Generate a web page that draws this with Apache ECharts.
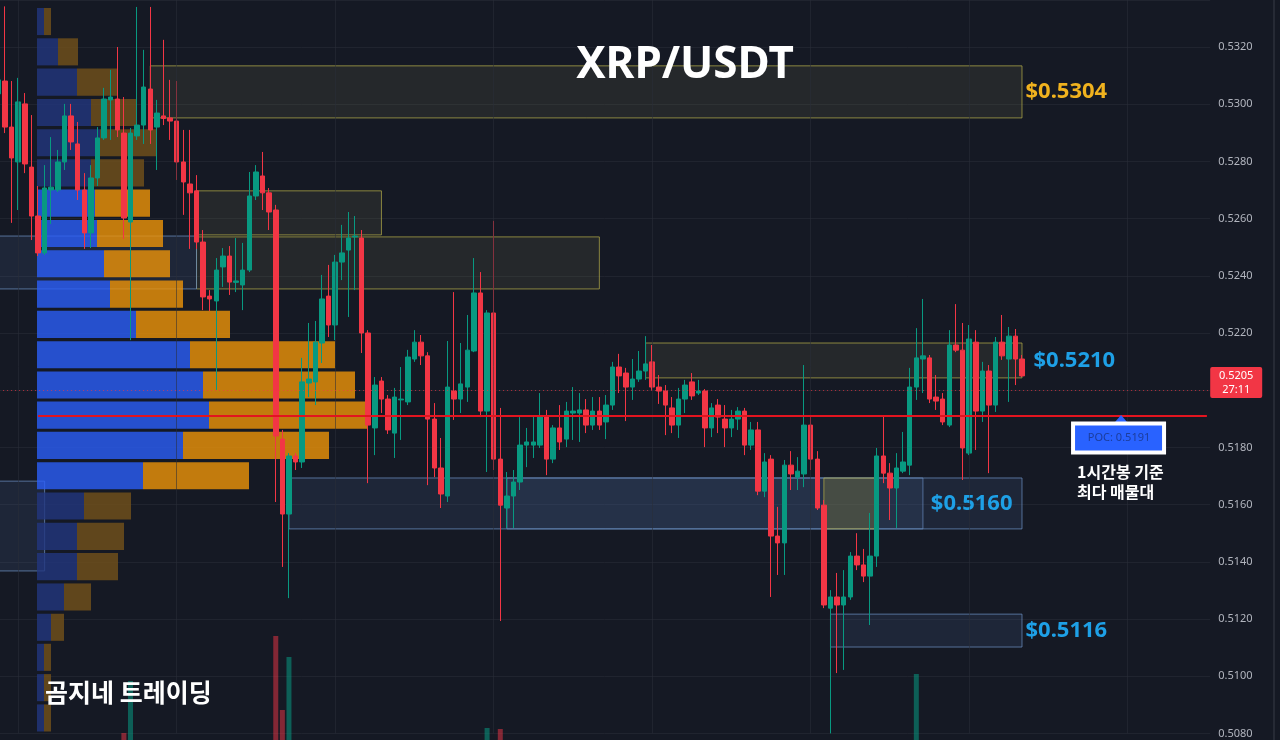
<!DOCTYPE html>
<html lang="ko">
<head>
<meta charset="utf-8">
<title>XRP/USDT 1H</title>
<script src="https://cdn.jsdelivr.net/npm/echarts/dist/echarts.min.js"></script>
<style>
  html, body { margin: 0; padding: 0; background: #151924; }
  #chart { width: 1280px; height: 740px; }
</style>
</head>
<body>
<div id="chart"></div>
<script>
// ---- 1h candles, XRP/USDT ----
const candleOpen = [
  0.53036,
  0.53081,0.52920,0.52798,0.53001,0.52780,0.52609,0.52480,0.52700,0.52700,0.52798,
  0.52959,0.52861,0.52700,0.52550,0.52742,0.52882,0.53015,0.53018,0.52899,0.52588,
  0.52889,0.52927,0.53053,0.52920,0.52959,0.52952,0.52941,0.52798,0.52721,0.52697,
  0.52518,0.52329,0.52312,0.52431,0.52469,0.52377,0.52368,0.52420,0.52679,0.52749,
  0.52690,0.52630,0.51829,0.51567,0.51770,0.51749,0.52025,0.52029,0.52165,0.52329,
  0.52228,0.52448,0.52490,0.52536,0.52532,0.52200,0.51868,0.52032,0.51969,0.51850,
  0.51966,0.51959,0.52109,0.52168,0.52120,0.51899,0.51728,0.51630,0.51997,0.51969,
  0.52011,0.52137,0.52340,0.51927,0.52270,0.51759,0.51588,0.51630,0.51679,0.51808,
  0.51808,0.51808,0.51910,0.51759,0.51868,0.51829,0.51920,0.51920,0.51931,0.51878,
  0.51927,0.51889,0.51948,0.52081,0.52060,0.52011,0.52039,0.52067,0.52099,0.52011,
  0.51997,0.51938,0.51878,0.51969,0.52029,0.51990,0.51997,0.51868,0.51948,0.51899,
  0.51868,0.51899,0.51927,0.51808,0.51861,0.51647,0.51759,0.51490,0.51466,0.51738,
  0.51696,0.51707,0.51878,0.51759,0.51598,0.51238,0.51277,0.51249,0.51277,0.51420,
  0.51389,0.51350,0.51420,0.51770,0.51710,0.51658,0.51717,0.51738,0.52011,0.52109,
  0.52113,0.51976,0.51969,0.51878,0.52158,0.52140,0.51780,0.52168,0.51927,0.52067,
  0.51948,0.52168,0.52109,0.52189,0.52109
];
const candleHigh = [
  0.53102,
  0.53342,0.53081,0.53092,0.53039,0.52962,0.52714,0.52787,0.52885,0.52840,0.53001,
  0.53001,0.52938,0.52759,0.52787,0.52920,0.53057,0.53120,0.53200,0.53025,0.52917,
  0.53340,0.53190,0.53340,0.53015,0.53225,0.53085,0.53081,0.52910,0.52910,0.52752,
  0.52560,0.52350,0.52462,0.52497,0.52504,0.52532,0.52515,0.52763,0.52787,0.52833,
  0.52707,0.52648,0.51861,0.51780,0.51780,0.52113,0.52235,0.52242,0.52403,0.52438,
  0.52473,0.52578,0.52623,0.52609,0.52560,0.52210,0.52046,0.52046,0.51983,0.52008,
  0.52081,0.52141,0.52210,0.52193,0.52133,0.51955,0.51833,0.52172,0.52343,0.52165,
  0.52263,0.52462,0.52413,0.52280,0.52592,0.51938,0.51714,0.51721,0.51906,0.51868,
  0.51913,0.51990,0.51931,0.51878,0.51948,0.51959,0.52011,0.51990,0.51969,0.51976,
  0.51976,0.51983,0.52099,0.52127,0.52078,0.52109,0.52137,0.52189,0.52158,0.52053,
  0.52018,0.51976,0.52008,0.52036,0.52060,0.52036,0.52004,0.51955,0.51969,0.51948,
  0.51931,0.51941,0.51938,0.51889,0.51889,0.51780,0.51773,0.51592,0.51756,0.51787,
  0.51766,0.52088,0.51906,0.51787,0.51616,0.51301,0.51361,0.51371,0.51434,0.51500,
  0.51445,0.51571,0.51798,0.51913,0.51745,0.51780,0.51854,0.52078,0.52217,0.52319,
  0.52123,0.52053,0.51990,0.52210,0.52301,0.52235,0.52228,0.52210,0.52099,0.52088,
  0.52186,0.52263,0.52221,0.52214,0.52123
];
const candleLow = [
  0.53015,
  0.52899,0.52585,0.52630,0.52759,0.52525,0.52469,0.52473,0.52581,0.52693,0.52770,
  0.52840,0.52665,0.52494,0.52497,0.52714,0.52875,0.52875,0.52885,0.52529,0.52175,
  0.52875,0.52861,0.52861,0.52770,0.52927,0.52875,0.52735,0.52613,0.52494,0.52494,
  0.52280,0.52277,0.52001,0.52361,0.52333,0.52343,0.52280,0.52413,0.52665,0.52630,
  0.52560,0.51609,0.51382,0.51273,0.51721,0.51728,0.51976,0.51948,0.52095,0.52186,
  0.52175,0.52385,0.52256,0.52350,0.52130,0.51675,0.51773,0.51920,0.51847,0.51763,
  0.51826,0.51948,0.52099,0.52088,0.51668,0.51696,0.51588,0.51609,0.51896,0.51920,
  0.51959,0.52133,0.51906,0.51714,0.51721,0.51193,0.51518,0.51518,0.51651,0.51731,
  0.51763,0.51798,0.51703,0.51745,0.51791,0.51801,0.51826,0.51819,0.51850,0.51861,
  0.51861,0.51829,0.51931,0.51990,0.51892,0.51966,0.52029,0.52036,0.52001,0.51952,
  0.51843,0.51850,0.51833,0.51920,0.51966,0.51983,0.51801,0.51836,0.51850,0.51801,
  0.51836,0.51861,0.51773,0.51791,0.51633,0.51626,0.51277,0.51354,0.51354,0.51651,
  0.51651,0.51661,0.51721,0.51581,0.51238,0.50800,0.51011,0.51022,0.51267,0.51371,
  0.51329,0.51179,0.51382,0.51675,0.51546,0.51518,0.51710,0.51703,0.51966,0.51990,
  0.51955,0.51931,0.51878,0.51871,0.52133,0.51686,0.51773,0.51791,0.51889,0.51710,
  0.51924,0.52106,0.51959,0.52018,0.52046
];
const candleClose = [
  0.53085,
  0.52920,0.52812,0.53008,0.52791,0.52609,0.52480,0.52707,0.52710,0.52798,0.52959,
  0.52868,0.52700,0.52550,0.52742,0.52882,0.53018,0.53025,0.52910,0.52602,0.52899,
  0.52927,0.53060,0.52910,0.52969,0.52950,0.52941,0.52798,0.52728,0.52690,0.52518,
  0.52326,0.52319,0.52420,0.52469,0.52378,0.52382,0.52420,0.52679,0.52763,0.52690,
  0.52623,0.51840,0.51567,0.51770,0.51749,0.52029,0.52039,0.52168,0.52319,0.52228,
  0.52448,0.52480,0.52532,0.52539,0.52200,0.51878,0.52018,0.51969,0.51861,0.51976,
  0.51969,0.52116,0.52168,0.52120,0.51899,0.51728,0.51637,0.52011,0.51969,0.52022,
  0.52140,0.52340,0.51927,0.52270,0.51759,0.51598,0.51630,0.51679,0.51808,0.51819,
  0.51819,0.51910,0.51759,0.51868,0.51819,0.51927,0.51927,0.51931,0.51878,0.51927,
  0.51878,0.51948,0.52081,0.52050,0.52011,0.52039,0.52067,0.52092,0.52011,0.51997,
  0.51948,0.51878,0.51969,0.52018,0.51980,0.51997,0.51868,0.51938,0.51906,0.51868,
  0.51899,0.51927,0.51808,0.51861,0.51647,0.51749,0.51490,0.51466,0.51738,0.51707,
  0.51717,0.51878,0.51759,0.51588,0.51249,0.51277,0.51249,0.51277,0.51420,0.51389,
  0.51350,0.51420,0.51770,0.51710,0.51658,0.51728,0.51749,0.52011,0.52113,0.52120,
  0.51969,0.51962,0.51889,0.52158,0.52140,0.51798,0.52179,0.51927,0.52067,0.51948,
  0.52168,0.52120,0.52189,0.52109,0.52050
];
// volume per candle, millions of XRP
const candleVolume = [
  3.8,
  5.2,4.1,4.8,3.9,4.4,3.6,5.0,2.8,2.6,3.9,
  2.9,3.2,3.5,3.3,2.7,3.4,2.2,4.6,8.7,13.9,
  5.8,4.9,6.3,2.7,2.9,2.1,3.4,2.6,2.4,3.7,
  4.5,1.9,5.2,2.3,2.5,1.8,2.7,4.2,2.6,2.9,
  2.4,18.4,11.0,16.3,4.6,6.8,3.1,3.6,4.1,3.0,
  3.9,2.6,3.2,2.4,5.4,6.7,4.4,2.8,3.0,3.6,
  2.5,3.3,2.2,1.9,4.2,3.5,3.1,6.9,4.8,2.7,
  3.0,4.6,7.2,9.2,7.6,9.1,3.4,2.9,3.5,2.0,
  2.2,2.8,3.1,2.5,2.3,2.4,2.0,1.8,2.1,1.9,
  1.8,2.0,3.3,2.1,2.4,1.9,1.7,2.6,2.9,1.6,
  2.3,2.0,2.2,1.9,1.8,1.5,2.7,2.1,1.9,2.0,
  1.7,1.6,2.8,2.0,3.9,2.9,5.6,3.4,4.8,2.6,
  2.2,4.5,3.1,3.8,6.9,7.7,4.3,3.6,3.2,2.3,
  2.1,3.4,6.2,2.7,2.5,2.4,2.0,5.8,14.6,4.9,
  3.3,2.0,2.6,5.1,3.0,5.4,5.2,4.1,2.9,3.3,
  3.6,2.4,2.7,2.2,1.9
];
const countdown = '27:11';

// ---- volume profile (24 price rows) ----
const profileRowPrice = [
  0.53289,0.53183,0.53077,0.52971,0.52865,0.52760,0.52654,0.52548,0.52442,0.52336,0.52230,0.52124,
  0.52018,0.51913,0.51807,0.51701,0.51595,0.51489,0.51383,0.51277,0.51171,0.51066,0.50960,0.50854
];
const profileRowSize = 0.0010594;
const profileBuy  = [3.5,10.5,20,27,31.5,27,29,30,33.5,36.5,49.5,76.5,83,86,73,53,23.5,20,20,13.5,7,3.5,3.5,3.5];
const profileSell = [3.5,10,20,22.5,28,26.5,27.5,33,33,36.5,47,72.5,76,79.5,73,53,23.5,23.5,20.5,13.5,6.5,3.5,3.5,3.5];
const valueAreaHigh = 0.52707;
const valueAreaLow = 0.51648;
const pocPrice = 0.5191;

// ---- marked zones (candle index from/to, price top/bottom) ----
const zones = [
  { from: 23,  to: 155, top: 0.53134, bottom: 0.52952, kind: 'gold', tagged: true },
  { from: 30,  to: 58,  top: 0.52697, bottom: 0.52543, kind: 'gold', tagged: false },
  { from: 30,  to: 91,  top: 0.52536, bottom: 0.52354, kind: 'gold', tagged: false },
  { from: 0,   to: 30,  top: 0.52539, bottom: 0.52354, kind: 'blue', tagged: false },
  { from: 0,   to: 7,   top: 0.51682, bottom: 0.51368, kind: 'blue', tagged: false },
  { from: 98,  to: 155, top: 0.52165, bottom: 0.52043, kind: 'gold', tagged: true },
  { from: 44,  to: 140, top: 0.51693, bottom: 0.51515, kind: 'blue', tagged: false },
  { from: 77,  to: 155, top: 0.51693, bottom: 0.51515, kind: 'blue', tagged: true, inside: true },
  { from: 125, to: 133, top: 0.51693, bottom: 0.51515, kind: 'goldStrong', tagged: false },
  { from: 126, to: 155, top: 0.51217, bottom: 0.51102, kind: 'blue', tagged: true }
];
const zoneTagColor = { '$0.5304': '#f0b21e' };

// ---- axis ----
const priceMin = 0.5080;
const priceMax = 0.533643;
const priceStep = 0.002;
const slotCount = 184;            // candle slots incl. empty space right of the last bar
const pocNoteSlot = 170;
const firstBarTime = Date.UTC(2024, 5, 10, 21);

const pad = n => String(n).padStart(2, '0');
const slots = [];
for (let i = 0; i < slotCount; i++) {
  const d = new Date(firstBarTime + i * 3600e3);
  slots.push(pad(d.getUTCMonth() + 1) + '-' + pad(d.getUTCDate()) + ' ' + pad(d.getUTCHours()) + ':00');
}
const dayStarts = slots.filter(s => s.endsWith(' 00:00'));

const UP = '#089981', DOWN = '#f23645';
const lastClose = candleClose[candleClose.length - 1];

const candles = candleOpen.map((o, i) => [o, candleClose[i], candleLow[i], candleHigh[i]]);
const volumes = candleVolume.map((v, i) => ({
  value: v,
  itemStyle: { color: candleClose[i] >= candleOpen[i] ? 'rgba(8,153,129,0.55)' : 'rgba(242,54,69,0.5)' }
}));
const profileRows = profileRowPrice.map((p, i) => [p, profileBuy[i], profileSell[i],
  (p < valueAreaHigh && p > valueAreaLow) ? 1 : 0]);

const zoneLook = {
  gold:       { fill: 'rgba(150,145,90,0.13)', border: 'rgba(175,168,72,0.75)' },
  goldStrong: { fill: 'rgba(150,140,60,0.30)', border: 'rgba(175,168,72,0.75)' },
  blue:       { fill: 'rgba(70,100,150,0.18)', border: 'rgba(105,140,190,0.75)' }
};
const zoneAreas = zones.map(z => {
  const mid = (z.top + z.bottom) / 2;
  const tag = '$' + mid.toFixed(4);
  const look = zoneLook[z.kind];
  return [{
    coord: [z.from, z.top],
    itemStyle: { color: look.fill, borderColor: look.border, borderWidth: 1 },
    label: z.tagged ? {
      show: true,
      position: z.inside ? 'insideRight' : 'right',
      distance: z.inside ? 10 : (z.kind === 'gold' && z.from > 50 ? 11 : 3),
      formatter: tag,
      color: zoneTagColor[tag] || '#1ea0e6',
      fontSize: 22, fontWeight: 'bold', fontFamily: 'Noto Sans'
    } : { show: false }
  }, { coord: [z.to, z.bottom] }];
});

function renderProfileRow(params, api) {
  const price = api.value(0), buy = api.value(1), sell = api.value(2), inVA = api.value(3);
  const half = profileRowSize / 2;
  const a = api.coord([0, price + half]);
  const b = api.coord([buy, price - half]);
  const c = api.coord([buy + sell, price - half]);
  const gap = 1.6;
  const y = a[1] + gap, h = (b[1] - a[1]) - 2 * gap;
  return {
    type: 'group',
    children: [
      { type: 'rect', shape: { x: a[0], y: y, width: b[0] - a[0], height: h },
        style: { fill: inVA ? 'rgba(42,94,247,0.8)' : 'rgba(34,54,126,0.8)' } },
      { type: 'rect', shape: { x: b[0], y: y, width: c[0] - b[0], height: h },
        style: { fill: inVA ? 'rgba(238,148,8,0.8)' : 'rgba(115,81,26,0.8)' } }
    ]
  };
}

const chart = echarts.init(document.getElementById('chart'));
const gridV = { top: 0, bottom: 6.6 };
const mainGrid = { left: -4.9, right: 69.8, top: gridV.top, bottom: gridV.bottom, containLabel: false, outerBoundsMode: 'none' };
chart.setOption({
  backgroundColor: '#151924',
  animation: false,
  grid: [
    mainGrid,
    { left: 37, width: 500, top: gridV.top, bottom: gridV.bottom, containLabel: false, outerBoundsMode: 'none' },
    { left: mainGrid.left, right: mainGrid.right, top: 440, bottom: 0, containLabel: false, outerBoundsMode: 'none' }
  ],
  xAxis: [
    { type: 'category', gridIndex: 0, data: slots, boundaryGap: true, show: false },
    { type: 'value', gridIndex: 1, min: 0, max: 250, show: false },
    { type: 'category', gridIndex: 2, data: slots, boundaryGap: true, show: false }
  ],
  yAxis: [
    { type: 'value', gridIndex: 0, position: 'right', min: priceMin, max: priceMax, interval: priceStep,
      axisLine: { show: false }, axisTick: { show: false },
      axisLabel: { color: '#b2b5be', fontSize: 11, fontFamily: 'Noto Sans', margin: 8,
        showMaxLabel: false, formatter: v => v.toFixed(4) },
      splitLine: { lineStyle: { color: 'rgba(42,46,57,0.55)', width: 1 } } },
    { type: 'value', gridIndex: 1, min: priceMin, max: priceMax, show: false },
    { type: 'value', gridIndex: 2, min: 8, max: 38, show: false }
  ],
  series: [
    { // day separators and point of control line
      type: 'line', xAxisIndex: 0, yAxisIndex: 0, data: [], z: 0, silent: true,
      markLine: {
        symbol: ['none', 'none'], silent: true, animation: false,
        label: { show: false },
        data: dayStarts.map(s => ({ xAxis: s, lineStyle: { color: 'rgba(42,46,57,0.55)', width: 1, type: 'solid' } }))
          .concat([[{ coord: [6, pocPrice], lineStyle: { color: '#e3141f', width: 2, type: 'solid' } },
                    { coord: [slotCount - 1, pocPrice] }]])
      }
    },
    {
      type: 'custom', name: 'profile', xAxisIndex: 1, yAxisIndex: 1, z: 1, silent: true,
      renderItem: renderProfileRow, data: profileRows, clip: false
    },
    {
      type: 'line', xAxisIndex: 0, yAxisIndex: 0, data: [], z: 2, silent: true,
      markArea: { silent: true, data: zoneAreas }
    },
    {
      type: 'bar', name: 'volume', xAxisIndex: 2, yAxisIndex: 2, data: volumes, barWidth: 5, z: 2, silent: true
    },
    {
      type: 'candlestick', name: 'XRP/USDT', xAxisIndex: 0, yAxisIndex: 0, z: 3, data: candles,
      barWidth: 5,
      itemStyle: { color: UP, color0: DOWN, borderColor: UP, borderColor0: DOWN, borderWidth: 1 },
      markLine: {
        symbol: ['none', 'none'], silent: true, animation: false,
        label: { show: false },
        data: [{ yAxis: lastClose, lineStyle: { color: 'rgba(242,54,69,0.7)', width: 1, type: [1, 3] } }]
      }
    }
  ]
});

// overlay texts; the price tag and the POC callout are anchored to the price scale
const [tagX, tagY] = chart.convertToPixel({ xAxisIndex: 0, yAxisIndex: 0 }, [slotCount - 1, lastClose]);
const plotRect = chart.getModel().getComponent('grid', 0).coordinateSystem.getRect();
const rightEdge = plotRect.x + plotRect.width;
const [ax, ay] = chart.convertToPixel({ xAxisIndex: 0, yAxisIndex: 0 }, [pocNoteSlot, pocPrice]);
chart.setOption({
  graphic: [
    { type: 'text', x: 685, y: 65, z: 10,
      style: { text: 'XRP/USDT', fill: '#ffffff', font: 'bold 44px "Noto Sans"', align: 'center', verticalAlign: 'middle' } },
    { type: 'text', x: 45, y: 692, z: 10,
      style: { text: '곰지네 트레이딩', fill: '#ffffff', font: 'bold 25px "Noto Sans CJK KR"', align: 'left', verticalAlign: 'middle' } },
    // price-scale edge
    { type: 'rect', z: 10, shape: { x: 1273, y: 0, width: 2, height: 740 }, style: { fill: '#262a35' } },
    // last price tag on the price scale
    { type: 'rect', z: 10, shape: { x: rightEdge, y: tagY - 9, width: 52, height: 31, r: 2 }, style: { fill: DOWN } },
    { type: 'text', z: 11, x: rightEdge + 26, y: tagY,
      style: { text: lastClose.toFixed(4), fill: '#ffffff', font: '11px "Noto Sans"', align: 'center', verticalAlign: 'middle' } },
    { type: 'text', z: 11, x: rightEdge + 26, y: tagY + 14,
      style: { text: countdown, fill: '#ffffff', font: '11px "Noto Sans"', align: 'center', verticalAlign: 'middle' } },
    // POC callout
    { type: 'polygon', z: 10, shape: { points: [[ax, ay - 1], [ax - 6, ay + 6], [ax + 6, ay + 6]] }, style: { fill: '#2962ff' } },
    { type: 'rect', z: 10, shape: { x: ax - 48, y: ay + 7.5, width: 91, height: 29 },
      style: { fill: '#2962ff', stroke: '#ffffff', lineWidth: 4 } },
    { type: 'text', z: 11, x: ax - 2, y: ay + 22,
      style: { text: 'POC: ' + pocPrice.toFixed(4), fill: '#1c3d9c', font: '11px "Noto Sans"', align: 'center', verticalAlign: 'middle' } },
    { type: 'text', z: 11, x: ax - 44, y: ay + 56,
      style: { text: '1시간봉 기준', fill: '#ffffff', font: 'bold 16px "Noto Sans CJK KR"', align: 'left', verticalAlign: 'middle' } },
    { type: 'text', z: 11, x: ax - 44, y: ay + 76,
      style: { text: '최다 매물대', fill: '#ffffff', font: 'bold 16px "Noto Sans CJK KR"', align: 'left', verticalAlign: 'middle' } }
  ]
});
</script>
</body>
</html>
